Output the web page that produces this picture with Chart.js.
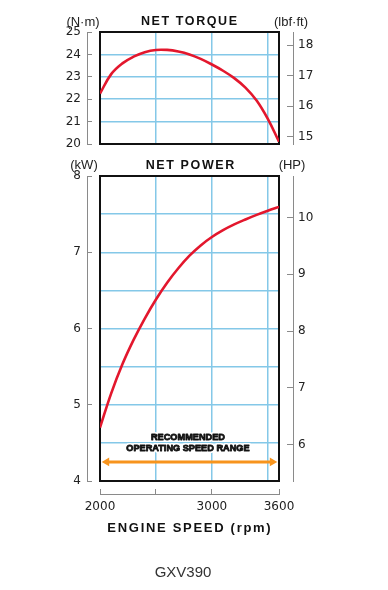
<!DOCTYPE html>
<html><head><meta charset="utf-8">
<script src="https://cdn.jsdelivr.net/npm/chart.js@4/dist/chart.umd.min.js"></script>
<style>
html,body{margin:0;padding:0;background:#fff;}
body{width:388px;height:590px;position:relative;overflow:hidden;font-family:"Liberation Sans",Arial,sans-serif;color:#222;}
canvas{position:absolute;left:0;}
.t{position:absolute;transform:translate(-50%,-50%);white-space:nowrap;line-height:1;}
.ttl{font-weight:bold;font-size:12.5px;letter-spacing:1.6px;padding-left:1.6px;color:#111;}
.ax{font-weight:bold;font-size:13px;letter-spacing:1.7px;padding-left:1.7px;color:#111;}
.u{font-size:13px;color:#222;}
.m{font-size:15px;color:#333;}
</style></head><body>
<canvas id="c1" width="388" height="170" style="top:0"></canvas>
<canvas id="c2" width="388" height="440" style="top:150px"></canvas>
<div class="t u" style="left:83px;top:21px">(N·m)</div>
<div class="t ttl" style="left:189px;top:21px">NET TORQUE</div>
<div class="t u" style="left:291px;top:21px">(lbf·ft)</div>
<div class="t u" style="left:84px;top:164px">(kW)</div>
<div class="t ttl" style="left:190px;top:165px">NET POWER</div>
<div class="t u" style="left:292px;top:164px">(HP)</div>
<div class="t ax" style="left:189px;top:527px">ENGINE SPEED (rpm)</div>
<div class="t m" style="left:183px;top:571px">GXV390</div>
<script>
// ---- data ----
const rpm = [2000,2100,2200,2300,2400,2500,2600,2700,2800,2900,3000,3100,3200,3300,3400,3500,3600];
const torqueNm = [22.25,23.12,23.6,23.9,24.1,24.2,24.2,24.13,24.0,23.8,23.55,23.27,22.94,22.52,21.94,21.12,20.1];
const powerKW = [4.70,5.15,5.53,5.85,6.13,6.38,6.60,6.79,6.955,7.09,7.20,7.29,7.365,7.43,7.49,7.545,7.595];
const speedTicks = [2000,2500,3000,3600];
const speedGrid = [2000,2500,3000,3500,3600];
const torqueTicksNm = [20,21,22,23,24,25];
const torqueTicksLbf = [15,16,17,18];
const powerTicksKW = [4,5,6,7,8];
const powerGridKW = [4,4.5,5,5.5,6,6.5,7,7.5,8];
const powerTicksHP = [6,7,8,9,10];
const rangeRpm = [2060,3540];
const rangeLevelKW = [4.25,4.25];
const rangeLabel = ['RECOMMENDED','OPERATING SPEED RANGE'];
const NM_TO_LBF = 0.737562;
const KW_TO_HP = 1/0.7457;

// ---- styles ----
const BLUE='#84c8e8', RED='#e3172d', ORANGE='#f7941d', AX='#8a8a8a';
const TICKFONT={family:'DejaVu Sans',size:12};
const setTicks = vals => s => { s.ticks = vals.map(v=>({value:v})); };
const fixW = w => s => { s.width = w; };
const fixH = h => s => { s.height = h; };
const lbl = v => String(v);

const frame = {id:'frame', beforeDatasetsDraw(chart){
  const {ctx, chartArea:a} = chart;
  ctx.save(); ctx.strokeStyle='#111'; ctx.lineWidth=2;
  ctx.strokeRect(a.left, a.top, a.right-a.left, a.bottom-a.top);
  ctx.restore();
}};

const rangeNote = {id:'rangeNote', afterDatasetsDraw(chart){
  const {ctx, scales:{x,y}} = chart;
  const cx = x.getPixelForValue(2786);
  const ay = y.getPixelForValue(rangeLevelKW[0]);
  ctx.save();
  ctx.font='bold 9.2px "Liberation Sans", Arial, sans-serif';
  ctx.textAlign='center'; ctx.textBaseline='middle';
  ctx.lineJoin='round';
  const offs=[-24,-13.2];
  rangeLabel.forEach((t,i)=>{
    ctx.strokeStyle='#fff'; ctx.lineWidth=4; ctx.strokeText(t,cx,ay+offs[i]);
  });
  rangeLabel.forEach((t,i)=>{
    ctx.fillStyle='#111'; ctx.fillText(t,cx,ay+offs[i]);
    ctx.lineWidth=0.8; ctx.strokeStyle='#111'; ctx.strokeText(t,cx,ay+offs[i]);
  });
  ctx.restore();
}};

function scalesFor(yMin,yMax,yGrid,yTicks,rMin,rMax,rTicks,bottomAxis){
  const s = {
    x:{type:'linear',position:'bottom',min:2000,max:3600,afterBuildTicks:setTicks(speedGrid),
       ticks:{display:false},grid:{color:BLUE,lineWidth:1.5,drawTicks:false},border:{display:false},
       afterFit:fixH(bottomAxis?13:0)},
    y:{type:'linear',position:'left',weight:0,min:yMin,max:yMax,afterBuildTicks:setTicks(yGrid),
       ticks:{display:false},grid:{color:BLUE,lineWidth:1.5,drawTicks:false},border:{display:false},
       afterFit:fixW(13)},
    yL:{type:'linear',position:'left',weight:1,min:yMin,max:yMax,afterBuildTicks:setTicks(yTicks),
       ticks:{padding:11,color:'#222',font:TICKFONT,callback:lbl},
       grid:{drawOnChartArea:false,tickLength:-5,color:AX,lineWidth:1},
       border:{color:AX,width:1},afterFit:fixW(87)},
    yG:{type:'linear',position:'right',weight:0,min:0,max:1,ticks:{display:false},
       grid:{display:false},border:{display:false},afterFit:fixW(14)},
    yR:{type:'linear',position:'right',weight:1,min:rMin,max:rMax,afterBuildTicks:setTicks(rTicks),
       ticks:{padding:11,color:'#222',font:TICKFONT,callback:lbl},
       grid:{drawOnChartArea:false,tickLength:-6,color:AX,lineWidth:1},
       border:{color:AX,width:1},afterFit:fixW(95)}
  };
  if(bottomAxis){
    s.xL={type:'linear',position:'bottom',weight:1,min:2000,max:3600,afterBuildTicks:setTicks(speedTicks),
       ticks:{padding:10.5,color:'#222',font:TICKFONT,autoSkip:false,maxRotation:0,
              callback:v=> v===2500?'':String(v)},
       grid:{drawOnChartArea:false,tickLength:-5,color:AX,lineWidth:1},
       border:{color:AX,width:1},afterFit:fixH(25)};
  }
  return s;
}

const common = {responsive:false,animation:false,devicePixelRatio:1,events:[],
  plugins:{legend:{display:false},tooltip:{enabled:false},title:{display:false}}};

new Chart(document.getElementById('c1'),{
  type:'line',
  data:{datasets:[{data:rpm.map((r,i)=>({x:r,y:torqueNm[i]})),borderColor:RED,borderWidth:2.6,
    pointRadius:0,tension:0.4,xAxisID:'x',yAxisID:'y'}]},
  options:Object.assign({},common,{layout:{padding:{top:32,bottom:26,left:0,right:0}},
    scales:scalesFor(20,25,torqueTicksNm,torqueTicksNm,20*NM_TO_LBF,25*NM_TO_LBF,torqueTicksLbf,false)}),
  plugins:[frame]
});

new Chart(document.getElementById('c2'),{
  type:'line',
  data:{datasets:[
    {data:rpm.map((r,i)=>({x:r,y:powerKW[i]})),borderColor:RED,borderWidth:2.6,
     pointRadius:0,tension:0.4,xAxisID:'x',yAxisID:'y'},
    {data:rangeRpm.map((r,i)=>({x:r,y:rangeLevelKW[i]})),borderColor:ORANGE,borderWidth:3,
     pointStyle:'triangle',pointRotation:[-90,90],pointRadius:5,pointBorderWidth:0,
     pointBackgroundColor:ORANGE,xAxisID:'x',yAxisID:'y'}
  ]},
  options:Object.assign({},common,{layout:{padding:{top:26,bottom:71,left:0,right:0}},
    scales:scalesFor(4,8,powerGridKW,powerTicksKW,4*KW_TO_HP,8*KW_TO_HP,powerTicksHP,true)}),
  plugins:[frame,rangeNote]
});
</script>
</body></html>
